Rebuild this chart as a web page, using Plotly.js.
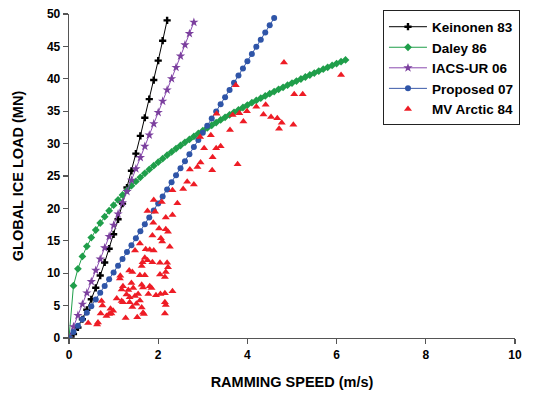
<!DOCTYPE html>
<html>
<head>
<meta charset="utf-8">
<script src="https://cdn.plot.ly/plotly-3.0.1.min.js"></script>
<style>html,body{margin:0;padding:0;background:#fff;}#chart{width:536px;height:396px;}</style>
</head>
<body>
<div id="chart"></div>
<script>
// Keinonen 83
const keinonenSpeed = [0,0.1,0.2,0.3,0.4,0.5,0.6,0.7,0.8,0.9,1.0,1.1,1.2,1.3,1.4,1.5,1.6,1.7,1.8,1.9,2.0,2.1,2.2];
const keinonenLoad  = [0,0.61,1.63,2.89,4.36,5.98,7.75,9.64,11.66,13.78,16.00,18.32,20.73,23.22,25.80,28.46,31.19,33.99,36.87,39.81,42.81,45.88,49.02];

// Daley 86
const daleySpeed = [0,0.1,0.2,0.3,0.4,0.5,0.6,0.7,0.8,0.9,1.0,1.1,1.2,1.3,1.4,1.5,1.6,1.7,1.8,1.9,2.0,2.1,2.2,2.3,2.4,2.5,2.6,2.7,2.8,2.9,3.0,3.1,3.2,3.3,3.4,3.5,3.6,3.7,3.8,3.9,4.0,4.1,4.2,4.3,4.4,4.5,4.6,4.7,4.8,4.9,5.0,5.1,5.2,5.3,5.4,5.5,5.6,5.7,5.8,5.9,6.0,6.1,6.2];
const daleyLoad  = [0,8.07,10.68,12.59,14.15,15.49,16.67,17.75,18.73,19.64,20.50,21.31,22.07,22.80,23.50,24.16,24.79,25.42,26.01,26.59,27.14,27.68,28.21,28.72,29.23,29.71,30.19,30.65,31.11,31.56,31.99,32.42,32.83,33.25,33.65,34.05,34.44,34.83,35.20,35.57,35.94,36.31,36.66,37.01,37.36,37.70,38.03,38.37,38.69,39.02,39.34,39.65,39.97,40.28,40.59,40.89,41.19,41.49,41.77,42.06,42.35,42.64,42.92];

// IACS-UR 06
const iacsSpeed = [0,0.1,0.2,0.3,0.4,0.5,0.6,0.7,0.8,0.9,1.0,1.1,1.2,1.3,1.4,1.5,1.6,1.7,1.8,1.9,2.0,2.1,2.2,2.3,2.4,2.5,2.6,2.7,2.8];
const iacsLoad  = [0,1.74,3.48,5.22,6.96,8.70,10.44,12.18,13.92,15.66,17.40,19.14,20.88,22.62,24.36,26.10,27.84,29.58,31.32,33.06,34.80,36.54,38.28,40.02,41.76,43.50,45.24,46.98,48.72];

// Proposed 07
const proposedSpeed = [0,0.1,0.2,0.3,0.4,0.5,0.6,0.7,0.8,0.9,1.0,1.1,1.2,1.3,1.4,1.5,1.6,1.7,1.8,1.9,2.0,2.1,2.2,2.3,2.4,2.5,2.6,2.7,2.8,2.9,3.0,3.1,3.2,3.3,3.4,3.5,3.6,3.7,3.8,3.9,4.0,4.1,4.2,4.3,4.4,4.5,4.6];
const proposedLoad  = [0,0.92,1.89,2.89,3.89,4.91,5.94,6.97,8.01,9.05,10.10,11.15,12.21,13.27,14.33,15.40,16.47,17.54,18.61,19.69,20.77,21.85,22.93,24.02,25.10,26.19,27.28,28.37,29.47,30.56,31.66,32.76,33.86,34.96,36.06,37.17,38.27,39.38,40.49,41.59,42.71,43.81,44.93,46.04,47.16,48.27,49.38];

// MV Arctic 84 (measured)
const arcticSpeed = [4.82,6.10,5.05,5.24,3.74,4.20,4.41,3.67,3.82,3.99,3.31,4.36,4.53,4.67,4.77,5.03,4.71,3.91,3.61,3.18,2.94,3.03,3.30,3.40,3.22,3.78,2.95,2.88,3.21,2.71,2.65,2.80,2.56,2.32,2.43,2.32,
  1.90,2.08,1.76,1.93,2.17,1.89,2.02,2.17,2.22,1.87,2.06,2.09,1.59,2.26,1.72,1.81,1.90,1.48,1.70,1.76,1.87,2.04,2.20,1.65,
  1.35,1.42,1.63,2.22,1.15,1.14,1.59,1.70,2.04,2.15,2.17,1.40,1.21,1.63,1.66,1.81,1.85,1.18,1.33,1.44,1.29,1.36,1.48,1.55,1.07,1.18,1.21,1.78,1.95,2.05,2.15,2.32,1.36,1.42,1.51,1.59,1.63,2.15,2.17,0.73,0.75,0.93,0.99,0.95,0.90,0.84,0.71,1.27,1.53,1.66,1.68,0.65,0.63,0.43,2.15];
const arcticLoad  = [42.5,40.6,37.6,37.6,39.0,35.7,36.0,34.4,34.7,35.0,34.6,34.5,34.1,33.9,33.2,32.9,32.3,33.4,32.1,31.3,31.0,29.3,29.3,29.6,27.9,26.8,27.1,26.4,25.9,26.0,24.1,23.7,23.0,22.8,20.8,19.0,
  21.3,21.0,19.6,19.5,18.6,17.8,16.9,16.8,16.4,15.8,15.4,14.9,14.6,14.1,13.7,13.6,13.5,13.5,12.4,12.0,11.7,11.6,11.6,11.7,
  10.4,10.2,11.1,10.9,9.6,9.2,9.7,9.7,9.8,9.4,10.2,8.5,8.0,8.2,7.8,8.0,7.7,7.5,7.4,7.7,6.7,6.3,6.5,6.8,6.1,5.7,5.5,6.8,6.6,6.8,6.9,7.2,5.5,4.8,5.3,5.8,4.7,5.5,5.1,5.7,5.0,4.5,4.2,3.8,3.7,3.4,3.8,3.1,3.2,3.9,3.7,2.4,2.1,2.3,3.8];

const xTicks = [0,2,4,6,8,10];
const yTicks = [0,5,10,15,20,25,30,35,40,45,50];

const FONT = 'Arial, "Liberation Sans", sans-serif';

const traces = [
  {x: keinonenSpeed, y: keinonenLoad, name: 'Keinonen 83', mode: 'lines+markers',
   line: {color: '#000000', width: 1}, marker: {symbol: 'cross', size: 6, color: '#000000'}},
  {x: daleySpeed, y: daleyLoad, name: 'Daley 86', mode: 'lines+markers',
   line: {color: '#1f9e4a', width: 1}, marker: {symbol: 'diamond', size: 6, color: '#1f9e4a'}},
  {x: iacsSpeed, y: iacsLoad, name: 'IACS-UR 06', mode: 'lines+markers',
   line: {color: '#8a4bb0', width: 1}, marker: {symbol: 'star', size: 7, color: '#7b3f9e'}},
  {x: proposedSpeed, y: proposedLoad, name: 'Proposed 07', mode: 'lines+markers',
   line: {color: '#3a5aa8', width: 1}, marker: {symbol: 'circle', size: 6, color: '#2f55a8'}},
  {x: arcticSpeed, y: arcticLoad, name: 'MV Arctic 84', mode: 'markers',
   marker: {symbol: 'triangle-up', size: 7, color: '#ee1c25'}}
];

const layout = {
  width: 536, height: 396,
  margin: {l: 69, r: 21, t: 10, b: 58},
  paper_bgcolor: '#ffffff', plot_bgcolor: '#ffffff',
  font: {family: FONT, color: '#000'},
  showlegend: true,
  legend: {x: 0.704, y: 1.011, xanchor: 'left', yanchor: 'top', itemwidth: 38,
    bgcolor: '#ffffff', bordercolor: '#222', borderwidth: 1,
    font: {family: FONT, size: 13.5, color: '#000', weight: 'bold'}},
  xaxis: {range: [0, 10], tickvals: xTicks, ticktext: xTicks.map(String),
    showgrid: false, zeroline: false, showline: true, linecolor: '#555', linewidth: 1.3,
    ticks: 'outside', ticklen: 5, tickcolor: '#555', tickwidth: 1.3,
    tickfont: {family: FONT, size: 12, weight: 'bold', color: '#000'},
    title: {text: 'RAMMING SPEED (m/s)', standoff: 16, font: {family: FONT, size: 14.5, weight: 'bold', color: '#000'}}},
  yaxis: {range: [0, 50], tickvals: yTicks, ticktext: yTicks.map(String),
    showgrid: false, zeroline: false, showline: true, linecolor: '#555', linewidth: 1.3,
    ticks: 'outside', ticklen: 5, tickcolor: '#555', tickwidth: 1.3,
    tickfont: {family: FONT, size: 12, weight: 'bold', color: '#000'},
    title: {text: 'GLOBAL ICE LOAD (MN)', standoff: 20, font: {family: FONT, size: 14.5, weight: 'bold', color: '#000'}}}
};

Plotly.newPlot('chart', traces, layout, {displayModeBar: false, staticPlot: true});
</script>
</body>
</html>
